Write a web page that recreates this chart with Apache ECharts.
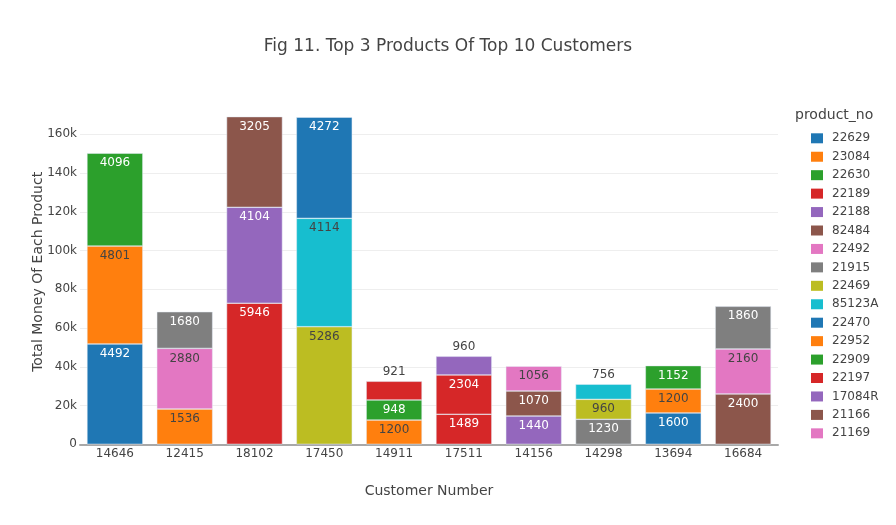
<!DOCTYPE html>
<html>
<head>
<meta charset="utf-8">
<script src="https://cdn.jsdelivr.net/npm/echarts@6/dist/echarts.min.js"></script>
<style>html,body{margin:0;padding:0;background:#fff;}#c{width:896px;height:525px;}</style>
</head>
<body>
<div id="c"></div>
<script>
// ---- data ----
const customers = ['14646','12415','18102','17450','14911','17511','14156','14298','13694','16684'];
const products = ['22629','23084','22630','22189','22188','82484','22492','21915','22469','85123A','22470','22952','22909','22197','17084R','21166','21169'];
const productColors = ['#1f77b4','#ff7f0e','#2ca02c','#d62728','#9467bd','#8c564b','#e377c2','#7f7f7f','#bcbd22','#17becf','#1f77b4','#ff7f0e','#2ca02c','#d62728','#9467bd','#8c564b','#e377c2'];

// stack level 1 (bottom) per customer
const bottomProduct = ['22629','23084','22189','22469','22952','22189','17084R','21915','22629','82484'];
const bottomMoney   = [51800, 18200, 72800, 60700, 12500, 15500, 14600, 12900, 16200, 26000];
const bottomQty     = [4492, 1536, 5946, 5286, 1200, 1489, 1440, 1230, 1600, 2400];
// stack level 2 (middle)
const middleProduct = ['23084','22492','22188','85123A','22909','22197','21166','22469','23084','22492'];
const middleMoney   = [50500, 31300, 49500, 55900, 10400, 20300, 12900, 10300, 12300, 23200];
const middleQty     = [4801, 2880, 4104, 4114, 948, 2304, 1070, 960, 1200, 2160];
// stack level 3 (top)
const topProduct    = ['22630','21915','82484','22470','22197','17084R','21169','85123A','22630','21915'];
const topMoney      = [47900, 18900, 46800, 52200, 9600, 9600, 12800, 7800, 12100, 22000];
const topQty        = [4096, 1680, 3205, 4272, 921, 960, 1056, 756, 1152, 1860];

const yTicks = [0, 20000, 40000, 60000, 80000, 100000, 120000, 140000, 160000];

// ---- layout ----
const FONT = 'DejaVu Sans';
const gridTop = 99.4, gridBottom = 80.7, yMax = 178000;
const gridHeight = 525 - gridTop - gridBottom;
const pxPerUnit = gridHeight / yMax;
const minInsidePx = 19.5;

function isLight(hex){
  const h = hex.replace('#','');
  const c = [0,2,4].map(i => parseInt(h.substr(i,2),16)/255).map(v => v <= 0.03928 ? v/12.92 : Math.pow((v+0.055)/1.055, 2.4));
  return 0.2126*c[0] + 0.7152*c[1] + 0.0722*c[2] > 0.3;
}

const levels = [
  {p: bottomProduct, m: bottomMoney, q: bottomQty, top: false},
  {p: middleProduct, m: middleMoney, q: middleQty, top: false},
  {p: topProduct,    m: topMoney,    q: topQty,    top: true}
];

const series = products.map((prod, pi) => {
  const color = productColors[pi];
  const data = customers.map(() => null);
  const qty = customers.map(() => '');
  levels.forEach(lv => {
    lv.p.forEach((p, ci) => {
      if (p === prod && data[ci] === null) {
        const v = lv.m[ci];
        const item = {value: v};
        if (lv.top && v * pxPerUnit < minInsidePx) {
          item.label = {position: 'top', distance: 3, color: '#444'};
        }
        data[ci] = item;
        qty[ci] = String(lv.q[ci]);
      }
    });
  });
  return {
    name: prod,
    type: 'bar',
    stack: 'total',
    barCategoryGap: '20%',
    itemStyle: {color: color, borderColor: '#E5ECF6', borderWidth: 0.5},
    label: {
      show: true,
      position: 'insideTop',
      distance: 4,
      fontFamily: FONT,
      fontSize: 12,
      color: isLight(color) ? '#444' : '#fff',
      formatter: p => qty[p.dataIndex]
    },
    emphasis: {disabled: true},
    data: data
  };
});

const splitColors = yTicks.map(() => '#eeeeee').concat(['rgba(0,0,0,0)']);

const chart = echarts.init(document.getElementById('c'), null, {renderer: 'canvas'});
chart.setOption({
  animation: false,
  backgroundColor: '#fff',
  textStyle: {fontFamily: FONT},
  title: [
    {text: 'Fig 11. Top 3 Products Of Top 10 Customers', left: 'center', top: 33,
     textStyle: {fontFamily: FONT, fontSize: 17, fontWeight: 'normal', color: '#444'}},
    {text: 'product_no', left: 790, top: 103,
     textStyle: {fontFamily: FONT, fontSize: 14, fontWeight: 'normal', color: '#444'}}
  ],
  legend: {
    data: products,
    orient: 'vertical',
    left: 806,
    top: 126.3,
    icon: 'rect',
    itemWidth: 12,
    itemHeight: 10,
    itemGap: 4.44,
    itemStyle: {borderWidth: 0},
    textStyle: {fontFamily: FONT, fontSize: 12, color: '#444', lineHeight: 14, padding: [0, 0, 0, 4]},
    selectedMode: true
  },
  grid: {left: 80, right: 118, top: gridTop, bottom: gridBottom, containLabel: false},
  xAxis: {
    type: 'category',
    data: customers,
    name: 'Customer Number',
    nameLocation: 'middle',
    nameGap: 40,
    nameMoveOverlap: false,
    nameTextStyle: {fontFamily: FONT, fontSize: 14, color: '#444'},
    axisLine: {show: true, lineStyle: {color: '#a8a8a8', width: 2}},
    axisTick: {show: false},
    axisLabel: {fontFamily: FONT, fontSize: 12, color: '#444', margin: 4},
    splitLine: {show: false}
  },
  yAxis: {
    type: 'value',
    min: 0,
    max: yMax,
    interval: 20000,
    name: 'Total Money Of Each Product',
    nameLocation: 'middle',
    nameGap: 35,
    nameMoveOverlap: false,
    nameTextStyle: {fontFamily: FONT, fontSize: 14, color: '#444'},
    axisLine: {show: false},
    axisTick: {show: false},
    axisLabel: {fontFamily: FONT, fontSize: 12, color: '#444', margin: 3,
      formatter: v => yTicks.indexOf(v) < 0 ? '' : (v === 0 ? '0' : (v/1000) + 'k')},
    splitLine: {show: true, lineStyle: {color: splitColors, width: 1}}
  },
  series: series
});
</script>
</body>
</html>
